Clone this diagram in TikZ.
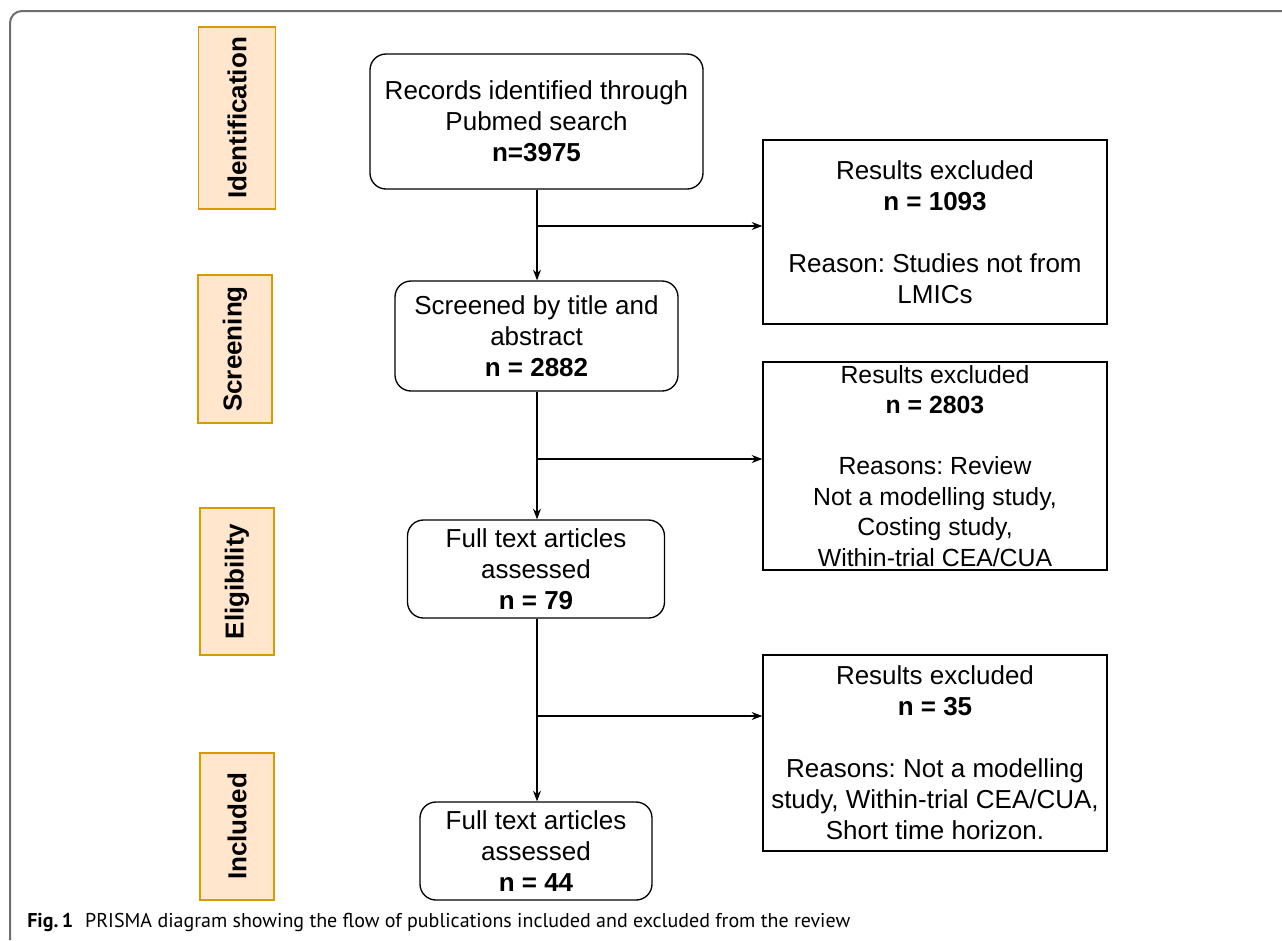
\documentclass[tikz,border=0pt]{standalone}
\usepackage{fontspec}
\setmainfont{Liberation Sans}
\newfontfamily\capfont{PT Sans}
\usetikzlibrary{arrows.meta}
\frenchspacing
\definecolor{lblfill}{HTML}{FFE6CC}
\definecolor{lbldraw}{HTML}{D79B00}
\definecolor{framegray}{HTML}{6E6E6E}
\tikzset{
  mainbox/.style={draw=black, line width=1pt, rounded corners=12pt, align=center, inner sep=0pt,
    font=\fontsize{19.5pt}{23.25pt}\selectfont},
  exbox/.style={draw=black, line width=1pt, align=center, inner sep=0pt,
    font=\fontsize{19.5pt}{23.25pt}\selectfont},
  stagebox/.style={draw=lbldraw, fill=lblfill, line width=1pt, inner sep=0pt,
    font=\fontsize{19.5pt}{23.25pt}\selectfont\bfseries},
  arr/.style={-{Stealth[length=8pt,width=6pt]}, line width=0.9pt},
  ln/.style={line width=0.9pt}
}
\begin{document}
\begin{tikzpicture}[x=0.75pt,y=-0.75pt]
\useasboundingbox (0,0) rectangle (1282,940);
% frame
\draw[framegray, line width=1.5pt, rounded corners=9pt] (10,940) -- (10,11) -- (1282,11);
% stage labels
\node[stagebox, minimum width=77*0.75pt, minimum height=182*0.75pt] (s1) at (237,118) {\rotatebox{90}{Identification}};
\node[stagebox, minimum width=74*0.75pt, minimum height=148*0.75pt] (s2) at (235,349) {\rotatebox{90}{Screening}};
\node[stagebox, minimum width=74*0.75pt, minimum height=147*0.75pt] (s3) at (237,581.5) {\rotatebox{90}{Eligibility}};
\node[stagebox, minimum width=74*0.75pt, minimum height=147*0.75pt] (s4) at (237,826.5) {\rotatebox{90}{Included}};
% main boxes
\node[mainbox, minimum width=333*0.75pt, minimum height=135*0.75pt] (b1) at (536.5,121.5)
  {Records identified through\\Pubmed search\\\textbf{n=3975}};
\node[mainbox, minimum width=283*0.75pt, minimum height=110*0.75pt] (b2) at (536.5,336)
  {Screened by title and\\abstract\\\textbf{n = 2882}};
\node[mainbox, minimum width=257*0.75pt, minimum height=98*0.75pt] (b3) at (536,569)
  {Full text articles\\assessed\\\textbf{n = 79}};
\node[mainbox, minimum width=232*0.75pt, minimum height=98*0.75pt] (b4) at (536,851)
  {Full text articles\\assessed\\\textbf{n = 44}};
% exclusion boxes
\node[exbox, minimum width=344*0.75pt, minimum height=184*0.75pt] (r1) at (935,232)
  {Results excluded\\\textbf{n = 1093}\\[23.25pt]Reason: Studies not from\\LMICs};
\node[exbox, minimum width=344*0.75pt, minimum height=208*0.75pt,
  font=\fontsize{18.6pt}{22.9pt}\selectfont] (r2) at (935,466)
  {Results excluded\\\textbf{n = 2803}\\[22.9pt]Reasons: Review\\Not a modelling study,\\Costing study,\\Within-trial CEA/CUA};
\node[exbox, minimum width=344*0.75pt, minimum height=196*0.75pt] (r3) at (935,753)
  {Results excluded\\\textbf{n = 35}\\[23.25pt]Reasons: Not a modelling\\study, Within-trial CEA/CUA,\\Short time horizon.};
% junctions
\coordinate (j1) at (537,226);
\coordinate (j2) at (537,459);
\coordinate (j3) at (537,716);
% connectors
\draw[arr] (j1 |- b1.south) -- (j1 |- b2.north);
\draw[arr] (j2 |- b2.south) -- (j2 |- b3.north);
\draw[arr] (j3 |- b3.south) -- (j3 |- b4.north);
\draw[arr] (j1) -- (j1 -| r1.west);
\draw[arr] (j2) -- (j2 -| r2.west);
\draw[arr] (j3) -- (j3 -| r3.west);
% caption
\node[anchor=base west, inner sep=0pt, font=\capfont\fontsize{15pt}{18pt}\selectfont] (cap) at (27,927)
  {\textbf{Fig.\,1}\hspace{0.6em}PRISMA diagram showing the flow of publications included and excluded from the review};
\end{tikzpicture}
\end{document}
